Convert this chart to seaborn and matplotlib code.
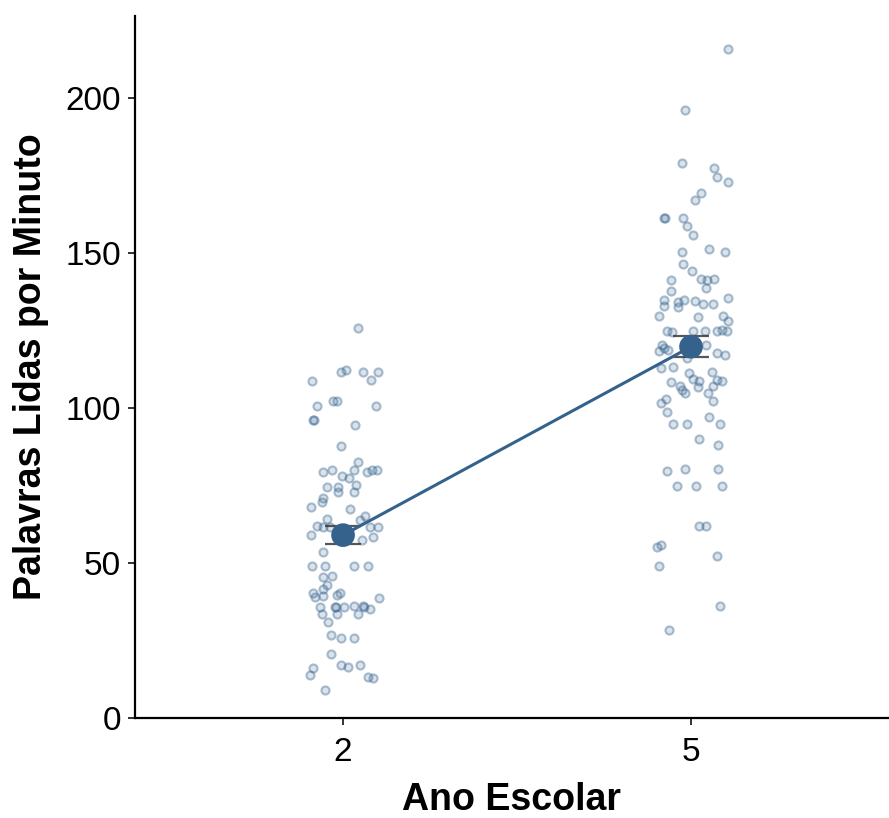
import numpy as np
import pandas as pd
import matplotlib
matplotlib.use("Agg")
import matplotlib.pyplot as plt
import seaborn as sns

# words read per minute (grade 2 and grade 5)
grades = ["2", "5"]
grade2_wpm = [125.7, 111.7, 112.3, 111.7, 111.7, 109.0, 108.7, 102.4, 102.4, 100.7,
              100.7, 96.1, 96.3, 94.6, 87.8, 82.7, 79.5, 80.0, 80.0, 78.2,
              77.5, 79.5, 80.0, 80.0, 74.6, 74.6, 73.0, 75.2, 72.8, 70.9,
              69.8, 68.0, 67.3, 64.1, 61.9, 61.7, 61.7, 63.9, 65.2, 61.7,
              61.5, 59.0, 57.4, 58.5, 53.6, 49.0, 49.0, 49.0, 49.0, 45.4,
              45.8, 42.9, 41.5, 40.2, 39.1, 39.4, 39.7, 40.4, 38.6, 35.7,
              35.7, 35.9, 35.7, 36.1, 36.1, 35.9, 35.1, 33.5, 33.5, 33.5,
              30.9, 26.8, 25.9, 25.9, 20.6, 17.1, 16.4, 17.1, 16.0, 13.9,
              13.3, 12.8, 9.0]
# horizontal jitter of each grade 2 point (category units)
grade2_jit = [0.044, -0.007, 0.009, 0.058, 0.100, 0.080, -0.090, -0.028, -0.018, -0.076,
              0.095, -0.085, -0.083, 0.035, -0.007, 0.044, -0.057, -0.032, 0.030, -0.002,
              0.018, 0.068, 0.082, 0.097, -0.047, -0.014, -0.014, 0.036, 0.030, -0.057,
              -0.061, -0.093, 0.020, -0.047, -0.076, -0.057, -0.037, 0.049, 0.063, 0.078,
              0.101, -0.093, 0.054, 0.087, -0.057, -0.090, -0.052, 0.030, 0.073, -0.057,
              -0.032, -0.047, -0.057, -0.085, -0.080, -0.057, -0.018, -0.009, 0.104, -0.066,
              -0.023, -0.020, 0.003, 0.030, 0.058, 0.061, 0.078, -0.061, -0.018, 0.044,
              -0.042, -0.034, -0.006, 0.030, -0.034, -0.007, 0.014, 0.049, -0.085, -0.095,
              0.073, 0.087, -0.052]

grade5_wpm = [215.8, 196.1, 179.1, 177.6, 174.4, 172.8, 169.3, 167.1, 161.4, 161.4,
              161.4, 158.8, 155.8, 150.4, 151.2, 150.4, 146.5, 144.3, 141.8, 141.3,
              141.8, 141.3, 137.7, 138.6, 134.8, 133.0, 134.3, 134.8, 132.7, 134.6,
              133.5, 133.5, 135.6, 129.8, 129.5, 129.8, 128.1, 124.8, 124.4, 124.8,
              124.8, 124.8, 125.2, 124.8, 120.5, 119.5, 118.5, 118.7, 120.5, 117.8,
              117.1, 116.0, 113.1, 112.8, 111.4, 109.3, 108.7, 111.7, 109.0, 108.7,
              108.5, 107.2, 105.8, 104.9, 106.9, 107.1, 104.7, 102.9, 101.5, 102.4,
              98.8, 97.2, 94.7, 94.7, 94.7, 90.0, 88.1, 79.7, 80.2, 80.2,
              74.9, 74.9, 74.9, 61.9, 61.9, 55.3, 55.8, 52.3, 49.1, 36.1,
              28.4]
grade5_jit = [0.107, -0.017, -0.027, 0.066, 0.074, 0.107, 0.028, 0.011, -0.077, -0.075,
              -0.022, -0.012, 0.007, -0.027, 0.052, 0.098, -0.022, 0.002, 0.028, 0.045,
              0.066, -0.058, -0.058, 0.043, -0.077, -0.077, -0.036, -0.020, -0.036, 0.011,
              0.034, 0.062, 0.107, -0.091, 0.021, 0.093, 0.107, -0.068, -0.055, 0.007,
              0.040, 0.074, 0.088, 0.103, -0.084, -0.078, -0.091, -0.065, 0.043, 0.074,
              0.098, -0.012, -0.051, -0.086, -0.005, 0.005, 0.024, 0.059, 0.074, 0.088,
              -0.058, -0.032, -0.027, -0.017, 0.021, 0.062, 0.050, -0.072, -0.087, 0.062,
              -0.068, 0.052, -0.051, -0.012, 0.083, 0.024, 0.078, -0.068, -0.017, 0.078,
              -0.041, 0.014, 0.088, 0.024, 0.043, -0.099, -0.087, 0.074, -0.092, 0.083,
              -0.064]

# group means and standard errors
mean_wpm = [59.0, 119.8]
se_wpm = [3.0, 3.3]

blue = "#34628d"

pts = pd.DataFrame({
    "pos": np.concatenate([0 + np.array(grade2_jit), 1 + np.array(grade5_jit)]),
    "wpm": grade2_wpm + grade5_wpm,
})
means = pd.DataFrame({"pos": [0, 1], "wpm": mean_wpm, "se": se_wpm})

sns.set_style("white")
plt.rcParams["font.family"] = ["Liberation Sans", "DejaVu Sans"]
plt.rcParams["text.color"] = "black"
plt.rcParams["axes.labelcolor"] = "black"

fig = plt.figure(figsize=(8.89, 8.18), dpi=100)
ax = fig.add_axes([135 / 889, 100 / 818, 754 / 889, 702 / 818])

base = matplotlib.colors.to_rgb(blue)
sns.scatterplot(data=pts, x="pos", y="wpm", ax=ax, s=34,
                facecolor=base + (0.18,), edgecolor=base + (0.40,),
                linewidth=1.5, zorder=2)

ax.errorbar(means["pos"], means["wpm"], yerr=means["se"], fmt="none",
            ecolor="#3a3a3a", elinewidth=1.6, capsize=13, capthick=1.6,
            alpha=0.85, zorder=3)
sns.lineplot(data=means, x="pos", y="wpm", ax=ax, color=blue, lw=2.2, zorder=4)
sns.scatterplot(data=means, x="pos", y="wpm", ax=ax, color=blue, s=290,
                edgecolor="none", zorder=5)

ax.set_xlim(-0.598, 1.569)
ax.set_ylim(0, 226.5)
ax.set_xticks([0, 1])
ax.set_xticklabels(grades)
ax.set_yticks([0, 50, 100, 150, 200])

ax.set_xlabel("Ano Escolar", fontsize=27, fontweight="bold", labelpad=10)
ax.set_ylabel("Palavras Lidas por Minuto", fontsize=27, fontweight="bold", labelpad=12)
ax.tick_params(labelsize=24, length=5, width=1.4, color="#333333", labelcolor="black",
               direction="out", left=True, bottom=True)
ax.tick_params(axis="x", pad=9)
ax.tick_params(axis="y", pad=5)

sns.despine(ax=ax)
for side in ["left", "bottom"]:
    ax.spines[side].set_linewidth(1.6)
    ax.spines[side].set_color("black")

fig.savefig("out.png", dpi=100)
